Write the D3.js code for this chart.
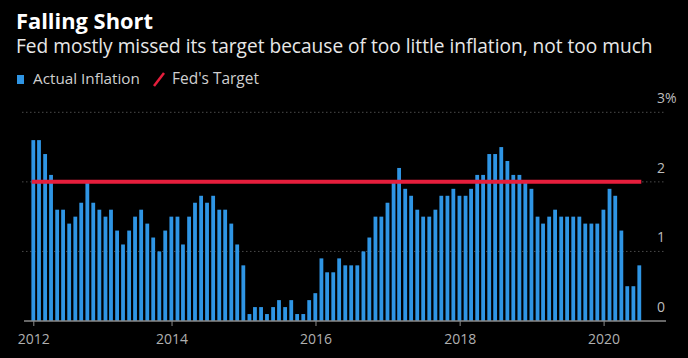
<!DOCTYPE html>
<html>
<head>
<meta charset="utf-8">
<script src="https://cdn.jsdelivr.net/npm/d3@7"></script>
<style>
  html, body { margin: 0; padding: 0; background: #000; }
  svg { display: block; }
</style>
</head>
<body>
<svg id="chart" width="688" height="358"></svg>
<script>
// ---- Data (monthly PCE inflation, Jan 2012 – Jun 2020, %) ----
const startMonth = "2012-01";
const inflation = [
  // 2012
  2.6, 2.6, 2.4, 2.1, 1.6, 1.6, 1.4, 1.5, 1.7, 2.0, 1.7, 1.6,
  // 2013
  1.5, 1.6, 1.3, 1.1, 1.3, 1.5, 1.6, 1.4, 1.2, 1.0, 1.3, 1.5,
  // 2014
  1.5, 1.1, 1.5, 1.7, 1.8, 1.7, 1.8, 1.6, 1.6, 1.4, 1.1, 0.8,
  // 2015
  0.1, 0.2, 0.2, 0.1, 0.2, 0.3, 0.2, 0.3, 0.1, 0.1, 0.3, 0.4,
  // 2016
  0.9, 0.7, 0.7, 0.9, 0.8, 0.8, 0.8, 1.0, 1.2, 1.5, 1.5, 1.7,
  // 2017
  2.0, 2.2, 1.9, 1.8, 1.6, 1.5, 1.5, 1.6, 1.8, 1.8, 1.9, 1.8,
  // 2018
  1.8, 1.9, 2.1, 2.1, 2.4, 2.4, 2.5, 2.3, 2.1, 2.1, 2.0, 1.9,
  // 2019
  1.5, 1.4, 1.5, 1.6, 1.5, 1.5, 1.5, 1.5, 1.4, 1.4, 1.4, 1.6,
  // 2020
  1.9, 1.8, 1.3, 0.5, 0.5, 0.8
];
const target = 2;
const yTicks = [0, 1, 2, 3];
const yTickLabels = ["0", "1", "2", "3%"];
const xTickYears = [2012, 2014, 2016, 2018, 2020];
const title = "Falling Short";
const subtitle = "Fed mostly missed its target because of too little inflation, not too much";
const legendLabels = ["Actual Inflation", "Fed's Target"];

// ---- Layout ----
const svg = d3.select("#chart");
const W = 688, H = 358;
const colBar = "#2f95e4", colTarget = "#e61e3c";
const fontFam = "'Open Sans', 'DejaVu Sans', sans-serif";

svg.append("rect").attr("width", W).attr("height", H).attr("fill", "#000");

// month-end dates for each observation
const t0 = d3.timeParse("%Y-%m")(startMonth);
const dates = inflation.map((v, i) => d3.timeDay.offset(d3.timeMonth.offset(t0, i + 1), -1));
const data = inflation.map((v, i) => ({ date: dates[i], value: v }));

const x = d3.scaleTime()
  .domain([dates[0], dates[dates.length - 1]])
  .range([33.3, 33.3 + 6 * (dates.length - 1)]);
const y = d3.scaleLinear().domain([0, 3]).range([321, 112.3]);

const gridX0 = 22, gridX1 = 666;

// fit helper
function fitText(sel, targetW, baseSize) {
  sel.attr("font-size", baseSize);
  const w = sel.node().getComputedTextLength();
  sel.attr("font-size", baseSize * targetW / w);
}

// Title / subtitle
const tt = svg.append("text").attr("x", 16).attr("y", 29)
  .attr("fill", "#ffffff").attr("font-family", fontFam).attr("font-weight", 700)
  .text(title);
fitText(tt, 137, 18);
const st = svg.append("text").attr("x", 16).attr("y", 52.5)
  .attr("fill", "#e8e8e8").attr("font-family", fontFam)
  .text(subtitle);
fitText(st, 637, 17);

// Legend
svg.append("rect").attr("x", 17).attr("y", 75).attr("width", 7).attr("height", 9).attr("fill", colBar);
const l1 = svg.append("text").attr("x", 33).attr("y", 84)
  .attr("fill", "#cfcfcf").attr("font-family", fontFam).text(legendLabels[0]);
fitText(l1, 107, 14);
svg.append("line").attr("x1", 154).attr("y1", 86).attr("x2", 164).attr("y2", 73)
  .attr("stroke", colTarget).attr("stroke-width", 2.5);
const l2 = svg.append("text").attr("x", 172).attr("y", 84)
  .attr("fill", "#cfcfcf").attr("font-family", fontFam).text(legendLabels[1]);
fitText(l2, 87, 14);

// Gridlines
svg.append("g").selectAll("line").data(yTicks.filter(d => d > 0)).join("line")
  .attr("x1", gridX0).attr("x2", gridX1)
  .attr("y1", d => y(d)).attr("y2", d => y(d))
  .attr("stroke", "#4a4a4a").attr("stroke-width", 1).attr("stroke-dasharray", "1.5,2.5");

// Y labels on right
svg.append("g").selectAll("text").data(yTicks).join("text")
  .attr("x", 657).attr("y", d => y(d) - 9)
  .attr("fill", "#bdbdbd").attr("font-family", fontFam).attr("font-size", 14)
  .text((d, i) => yTickLabels[i]);

// Bars
const bw = 3.8;
svg.append("g").selectAll("rect").data(data).join("rect")
  .attr("x", d => x(d.date) - bw / 2)
  .attr("width", bw)
  .attr("y", d => y(d.value))
  .attr("height", d => y(0) - y(d.value))
  .attr("fill", colBar);

// Target line
svg.append("line")
  .attr("x1", x(dates[0]) - 1.5).attr("x2", x(dates[dates.length - 1]) + 2)
  .attr("y1", y(target)).attr("y2", y(target))
  .attr("stroke", colTarget).attr("stroke-width", 4);

// X axis
const tickDates = xTickYears.map((yr, i) => i === 0 ? dates[0] : new Date(yr, 0, 1));
const xAxis = d3.axisBottom(x).tickValues(tickDates).tickSize(5).tickPadding(8)
  .tickFormat((d, i) => String(xTickYears[i]));
const gx = svg.append("g").attr("transform", "translate(0,321)").call(xAxis);
gx.select(".domain").remove();
gx.selectAll(".tick line").attr("stroke", "#8a8a8a");
gx.selectAll(".tick text").attr("fill", "#b0b0b0").attr("font-family", fontFam).attr("font-size", 14);
svg.append("line").attr("x1", 24).attr("x2", gridX1).attr("y1", 321).attr("y2", 321)
  .attr("stroke", "#8a8a8a").attr("stroke-width", 1.5);
</script>
</body>
</html>
